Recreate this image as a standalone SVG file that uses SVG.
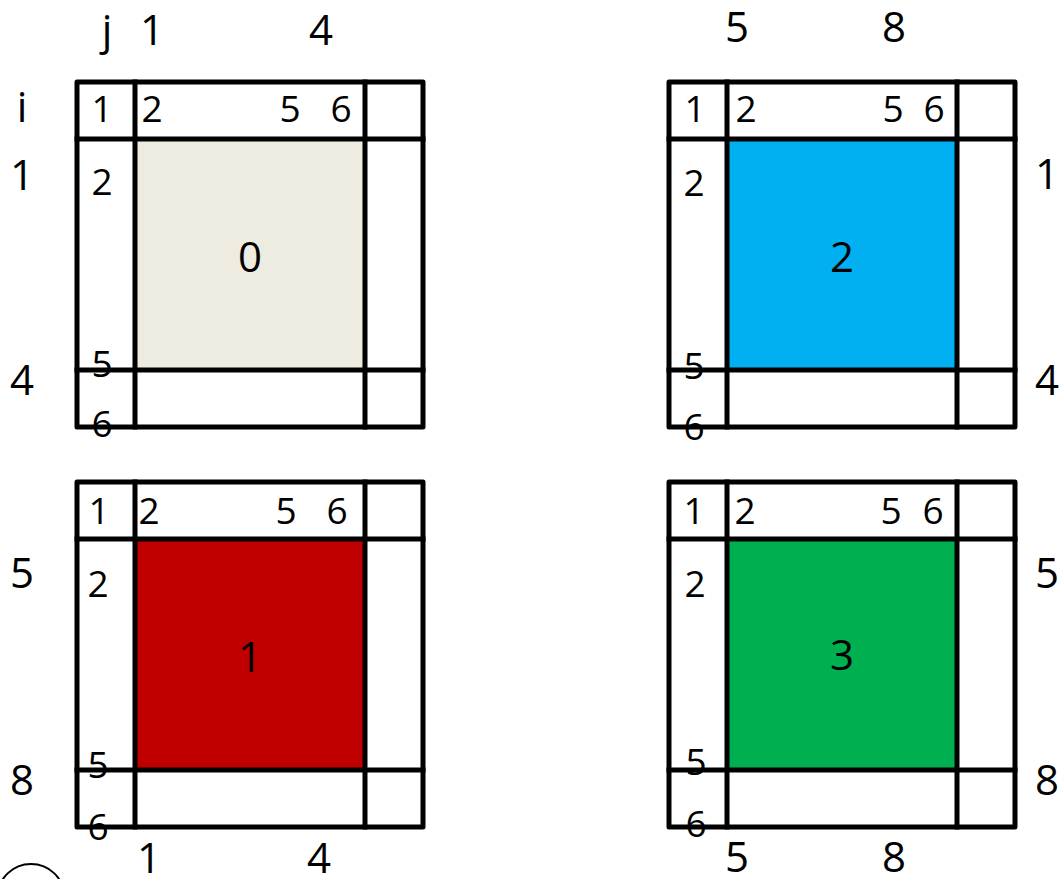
<svg xmlns="http://www.w3.org/2000/svg" width="1061" height="879" viewBox="0 0 1061 879">
<style>
text{font-family:"Open Sans","Liberation Sans",sans-serif;fill:#000;text-anchor:middle}
.big{font-size:42px}
.cell{font-size:37px}
.grid{fill:none;stroke:#000;stroke-width:5;stroke-linejoin:round;stroke-linecap:square}
</style>
<rect width="1061" height="879" fill="#fff"/>
<g id="axis-labels">
<text class="big" x="107" y="45">j</text>
<text class="big" x="152" y="45">1</text>
<text class="big" x="321" y="45">4</text>
<text class="big" x="737" y="42">5</text>
<text class="big" x="894" y="42">8</text>
<text class="big" x="22" y="122">i</text>
<text class="big" x="22" y="190">1</text>
<text class="big" x="22" y="395">4</text>
<text class="big" x="22" y="588">5</text>
<text class="big" x="22" y="795">8</text>
<text class="big" x="1047" y="189">1</text>
<text class="big" x="1047" y="395">4</text>
<text class="big" x="1047" y="588">5</text>
<text class="big" x="1047" y="795">8</text>
<text class="big" x="149" y="873">1</text>
<text class="big" x="319" y="873">4</text>
<text class="big" x="737" y="872">5</text>
<text class="big" x="894" y="872">8</text>
</g>
<g id="block0">
<rect x="135" y="139" width="230" height="231" fill="#EEEBE0"/>
<rect class="grid" x="77" y="82" width="346" height="345"/>
<path class="grid" d="M135 82V427M365 82V427M77 139H423M77 370H423"/>
<text class="cell" x="102" y="122">1</text>
<text class="cell" x="152" y="122">2</text>
<text class="cell" x="290" y="122">5</text>
<text class="cell" x="341" y="122">6</text>
<text class="cell" x="102" y="195">2</text>
<text class="cell" x="102" y="377">5</text>
<text class="cell" x="102" y="437">6</text>
<text class="big" x="250" y="272">0</text>
</g>
<g id="block2">
<rect x="727" y="139" width="230" height="231" fill="#00B0F0"/>
<rect class="grid" x="669" y="82" width="346" height="345"/>
<path class="grid" d="M727 82V427M957 82V427M669 139H1015M669 370H1015"/>
<text class="cell" x="695" y="122">1</text>
<text class="cell" x="746" y="122">2</text>
<text class="cell" x="893" y="122">5</text>
<text class="cell" x="934" y="122">6</text>
<text class="cell" x="694" y="196">2</text>
<text class="cell" x="694" y="379">5</text>
<text class="cell" x="694" y="440">6</text>
<text class="big" x="842" y="272">2</text>
</g>
<g id="block1">
<rect x="135" y="539" width="230" height="231" fill="#C00000"/>
<rect class="grid" x="77" y="482" width="346" height="345"/>
<path class="grid" d="M135 482V827M365 482V827M77 539H423M77 770H423"/>
<text class="cell" x="99" y="524">1</text>
<text class="cell" x="149" y="524">2</text>
<text class="cell" x="286" y="524">5</text>
<text class="cell" x="337" y="524">6</text>
<text class="cell" x="98" y="597">2</text>
<text class="cell" x="98" y="778">5</text>
<text class="cell" x="98" y="840">6</text>
<text class="big" x="250" y="672">1</text>
</g>
<g id="block3">
<rect x="727" y="539" width="230" height="231" fill="#00B050"/>
<rect class="grid" x="669" y="482" width="346" height="345"/>
<path class="grid" d="M727 482V827M957 482V827M669 539H1015M669 770H1015"/>
<text class="cell" x="694" y="524">1</text>
<text class="cell" x="745" y="524">2</text>
<text class="cell" x="891" y="524">5</text>
<text class="cell" x="933" y="524">6</text>
<text class="cell" x="695" y="597">2</text>
<text class="cell" x="696" y="775">5</text>
<text class="cell" x="696" y="837">6</text>
<text class="big" x="842" y="670">3</text>
</g>
<g id="corner-shape">
<ellipse cx="31" cy="896" rx="33" ry="32" fill="none" stroke="#000" stroke-width="2"/>
</g>
<g id="connectors"/>
</svg>
